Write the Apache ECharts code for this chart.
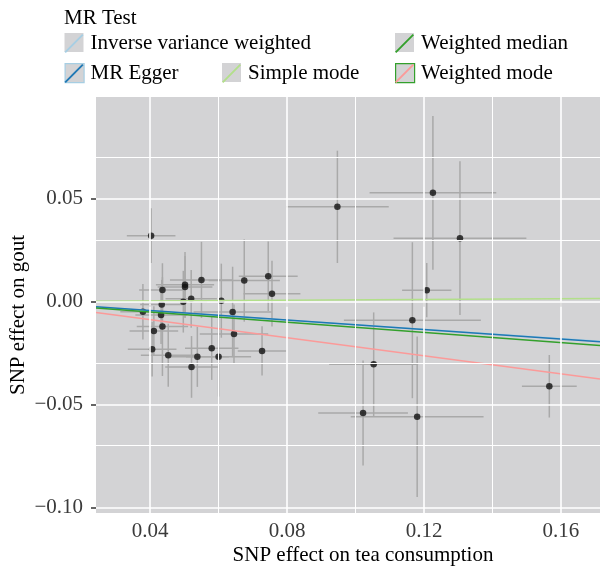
<!DOCTYPE html>
<html><head><meta charset="utf-8">
<script src="https://cdn.jsdelivr.net/npm/echarts@6/dist/echarts.min.js"></script>
<style>html,body{margin:0;padding:0;background:#fff}#c{width:600px;height:574px}</style>
</head><body><div id="c"></div>
<script>
// SNP effects (exposure x, outcome y) and their standard errors
const snpX = [0.0403, 0.0436, 0.0502, 0.0502, 0.0550, 0.0675, 0.0745, 0.0756, 0.0520, 0.0497,
              0.0608, 0.0434, 0.0379, 0.0432, 0.0641, 0.0436, 0.0411, 0.0645, 0.0406, 0.0453,
              0.0580, 0.0538, 0.0600, 0.0727, 0.0521, 0.0947, 0.1226, 0.1305, 0.1208, 0.1166,
              0.1053, 0.1022, 0.1180, 0.1566];
const snpY = [0.0321, 0.0057, 0.0082, 0.0072, 0.0106, 0.0103, 0.0124, 0.0039, 0.0014, 0.0000,
              0.0005, -0.0014, -0.0049, -0.0065, -0.0050, -0.0121, -0.0142, -0.0157, -0.0231, -0.0260,
              -0.0226, -0.0268, -0.0268, -0.0239, -0.0317, 0.0461, 0.0529, 0.0309, 0.0056, -0.0090,
              -0.0304, -0.0541, -0.0559, -0.0411];
const seX  = [0.0071, 0.0068, 0.0085, 0.0080, 0.0092, 0.0104, 0.0086, 0.0083, 0.0075, 0.0070,
              0.0076, 0.0063, 0.0066, 0.0075, 0.0114, 0.0075, 0.0071, 0.0100, 0.0071, 0.0080,
              0.0078, 0.0092, 0.0095, 0.0071, 0.0077, 0.0150, 0.0185, 0.0194, 0.0072, 0.0200,
              0.0130, 0.0131, 0.0194, 0.0080];
const seY  = [0.0133, 0.0130, 0.0160, 0.0150, 0.0185, 0.0200, 0.0169, 0.0160, 0.0140, 0.0150,
              0.0180, 0.0120, 0.0135, 0.0140, 0.0220, 0.0240, 0.0120, 0.0143, 0.0133, 0.0153,
              0.0154, 0.0146, 0.0193, 0.0120, 0.0150, 0.0273, 0.0374, 0.0374, 0.0132, 0.0379,
              0.0252, 0.0255, 0.0390, 0.0152];

// MR methods: regression lines
const methods    = ['Inverse variance weighted', 'MR Egger', 'Simple mode', 'Weighted median', 'Weighted mode'];
const slopes     = [-0.112, -0.115, 0.0088, -0.1245, -0.219];
const intercepts = [0, 0.0003, 0, 0, 0];
const methodColors = ['#a6cee3', '#1f78b4', '#b2df8a', '#33a02c', '#fb9a99'];

// axes
const xRange = [0.0242, 0.1714];
const yRange = [-0.1027, 0.0995];
const xTicks = [0.04, 0.08, 0.12, 0.16];
const xMinor = [0.06, 0.10, 0.14];
const yTicks = [-0.10, -0.05, 0.00, 0.05];
const yMinor = [-0.075, -0.025, 0.025, 0.075];

const FONT = 'Liberation Serif';
const PANEL = '#d3d3d5';

const chart = echarts.init(document.getElementById('c'), null, {renderer: 'canvas'});

const fmt = v => (v < -1e-9 ? '\u2212' + Math.abs(v).toFixed(2) : Math.abs(v).toFixed(2));

// legend layout: [left, top] for each method key, and key border colours
const keyPos = [[64.5, 33], [64.5, 63], [222, 63], [395, 33], [395, 63]];
const keyBorder = [null, '#a6cee3', null, null, '#33a02c'];

const gridMarks = [
  ...xTicks.map(v => ({xAxis: v, lineStyle: {width: 1.6}})),
  ...xMinor.map(v => ({xAxis: v, lineStyle: {width: 1.0}})),
  ...yTicks.map(v => ({yAxis: v, lineStyle: {width: 1.6}})),
  ...yMinor.map(v => ({yAxis: v, lineStyle: {width: 1.0}}))
];

const option = {
  animation: false,
  backgroundColor: '#ffffff',
  title: {
    text: 'MR Test', left: 64, top: 8, padding: 0,
    textStyle: {fontFamily: FONT, fontSize: 21, fontWeight: 'normal', color: '#000'}
  },
  legend: methods.map((m, i) => ({
    data: [m],
    left: keyPos[i][0], top: keyPos[i][1],
    padding: 0,
    itemWidth: 19, itemHeight: 19,
    selectedMode: false,
    icon: 'path://M0,18.6 L1.4,20 L20,1.4 L18.6,0 Z',
    itemStyle: {color: methodColors[i], borderWidth: 0},
    textStyle: {fontFamily: FONT, fontSize: 21, color: '#000', lineHeight: 19, padding: [0, 0, 0, 2]},
    z: 10
  })),
  graphic: methods.map((m, i) => ({
    type: 'rect', z: 1,
    left: keyPos[i][0], top: keyPos[i][1],
    shape: {width: 19, height: 19},
    style: {fill: PANEL, stroke: keyBorder[i] || null, lineWidth: keyBorder[i] ? 1.2 : 0}
  })),
  grid: {
    left: 96, right: 0, top: 97, bottom: 61,
    outerBoundsMode: 'none', containLabel: false,
    show: true, backgroundColor: PANEL, borderWidth: 0
  },
  xAxis: {
    type: 'value', min: xRange[0], max: xRange[1],
    name: 'SNP effect on tea consumption', nameLocation: 'middle', nameGap: 32, nameMoveOverlap: false,
    nameTextStyle: {fontFamily: FONT, fontSize: 21, color: '#000', padding: [0, 0, 0, 30]},
    axisLine: {show: false},
    axisTick: {show: true, customValues: xTicks, length: 5, lineStyle: {color: '#333', width: 1.5}},
    axisLabel: {customValues: xTicks, formatter: fmt, margin: 8, fontFamily: FONT, fontSize: 21, color: '#3a3a3a'},
    splitLine: {show: false}
  },
  yAxis: {
    type: 'value', min: yRange[0], max: yRange[1],
    name: 'SNP effect on gout', nameLocation: 'middle', nameGap: 67, nameRotate: 90, nameMoveOverlap: false,
    nameTextStyle: {fontFamily: FONT, fontSize: 21, color: '#000', padding: [0, 20, 0, 0]},
    axisLine: {show: false},
    axisTick: {show: true, customValues: yTicks, length: 5, lineStyle: {color: '#333', width: 1.5}},
    axisLabel: {customValues: yTicks, formatter: fmt, margin: 13, fontFamily: FONT, fontSize: 21, color: '#3a3a3a'},
    splitLine: {show: false}
  },
  series: [
    {
      type: 'line', name: '_grid', data: [], z: 1, silent: true,
      markLine: {
        silent: true, symbol: ['none', 'none'], label: {show: false},
        lineStyle: {color: '#ffffff', type: 'solid'},
        emphasis: {disabled: true},
        data: gridMarks
      }
    },
    {
      type: 'custom', name: '_err', z: 2, silent: true, clip: true,
      data: snpX.map((x, i) => [x, snpY[i], x - seX[i], x + seX[i], snpY[i] - seY[i], snpY[i] + seY[i]]),
      encode: {x: [0, 2, 3], y: [1, 4, 5]},
      renderItem: (params, api) => {
        const a = api.coord([api.value(2), api.value(1)]);
        const b = api.coord([api.value(3), api.value(1)]);
        const c = api.coord([api.value(0), api.value(4)]);
        const d = api.coord([api.value(0), api.value(5)]);
        return {type: 'group', children: [
          {type: 'line', shape: {x1: a[0], y1: a[1], x2: b[0], y2: b[1]}, style: {stroke: '#a9a9a9', lineWidth: 1.5}},
          {type: 'line', shape: {x1: c[0], y1: c[1], x2: d[0], y2: d[1]}, style: {stroke: '#a9a9a9', lineWidth: 1.5}}
        ]};
      }
    },
    {
      type: 'scatter', name: '_pts', z: 3, silent: true,
      data: snpX.map((x, i) => [x, snpY[i]]),
      symbolSize: 6.5, itemStyle: {color: '#111111'}
    },
    ...methods.map((m, i) => ({
      type: 'line', name: m, z: 4, silent: true, symbol: 'none',
      data: xRange.map(x => [x, intercepts[i] + slopes[i] * x]),
      lineStyle: {color: methodColors[i], width: 1.5},
      itemStyle: {color: methodColors[i]}
    }))
  ]
};
chart.setOption(option);
</script>
</body></html>
